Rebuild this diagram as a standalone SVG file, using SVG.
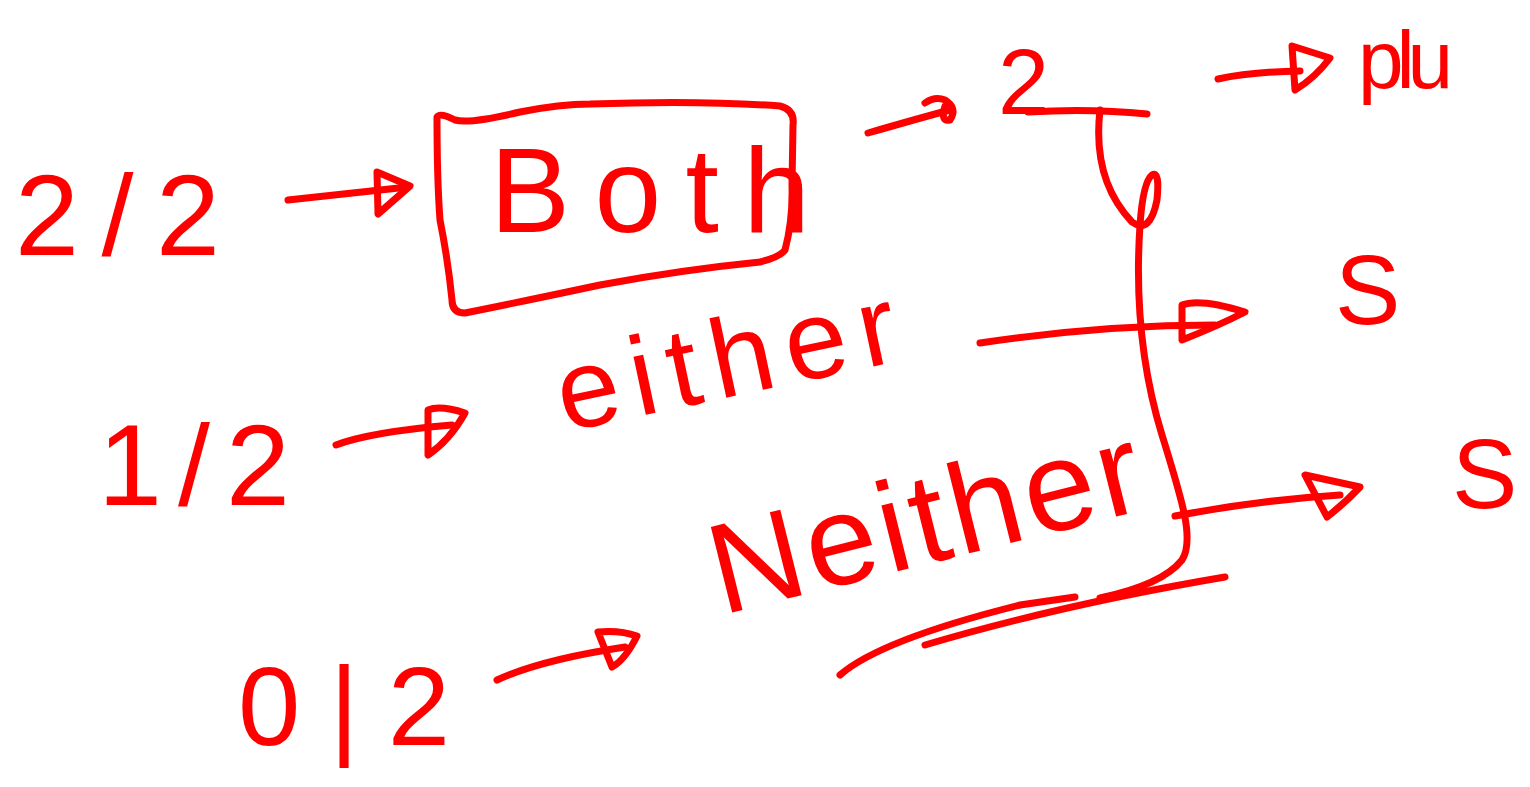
<svg xmlns="http://www.w3.org/2000/svg" width="1530" height="787" viewBox="0 0 1530 787">
<style>
.ink{fill:none;stroke:#ff0000;stroke-width:7;stroke-linecap:round;stroke-linejoin:round}
.t{fill:#ff0000;font-family:"Liberation Sans",Arial,sans-serif}
</style>
<rect width="1530" height="787" fill="#ffffff"/>

<g id="n-2of2"><text class="t" x="15" y="255" font-size="115" textLength="205" lengthAdjust="spacing">2/2</text></g>
<g id="n-both">
<path class="ink" d="M437 117 Q440 112 455 120 Q470 124 520 112 Q560 104 590 104 Q700 100 780 106 Q795 110 793 125 L792 185 Q793 220 785 250 Q780 257 760 262 Q680 270 600 285 Q520 302 465 313 Q452 313 452 300 Q448 260 440 220 Q437 180 437 117 Z"/>
<text class="t" x="490" y="232" font-size="120" textLength="320" lengthAdjust="spacing">Both</text>
</g>
<g id="n-1of2"><text class="t" x="98" y="505" font-size="115" textLength="192" lengthAdjust="spacing">1/2</text></g>
<g id="n-either"><text class="t" x="565" y="432" font-size="112" textLength="345" lengthAdjust="spacing" transform="rotate(-12 565 432)">either</text></g>
<g id="n-0of2"><text class="t" x="238" y="745" font-size="112" textLength="212" lengthAdjust="spacing">0|2</text></g>
<g id="n-neither"><text class="t" x="722" y="615" font-size="128" textLength="440" lengthAdjust="spacing" transform="rotate(-14 722 615)">Neither</text></g>
<g id="n-two"><text class="t" x="998" y="114" font-size="92">2</text></g>
<g id="n-plu"><text class="t" x="1358" y="88" font-size="82" textLength="95" lengthAdjust="spacing">plu</text></g>
<g id="n-s1"><text class="t" x="1335" y="324" font-size="98">S</text></g>
<g id="n-s2"><text class="t" x="1452" y="508" font-size="98">S</text></g>

<g id="connectors">
<path class="ink" d="M288 200 L408 187"/>
<path class="ink" d="M377 172 L410 186 L378 214 Z"/>
<path class="ink" d="M868 133 Q920 118 950 110"/>
<path class="ink" d="M925 103 Q935 96 945 100 Q958 108 950 120 Q940 122 945 106"/>
<path class="ink" d="M1028 112 Q1090 108 1147 114"/>
<path class="ink" d="M1100 110 Q1092 180 1132 222 Q1150 235 1157 200 Q1160 170 1152 175 Q1143 182 1140 225 C1135 300 1142 370 1162 435 C1182 500 1195 540 1182 560 Q1162 585 1100 598"/>
<path class="ink" d="M1218 79 Q1250 72 1300 71"/>
<path class="ink" d="M1292 46 L1330 58 Q1315 78 1295 90 Z"/>
<path class="ink" d="M980 343 Q1100 325 1215 325"/>
<path class="ink" d="M1182 305 Q1200 298 1245 312 Q1220 325 1182 340 Z"/>
<path class="ink" d="M336 445 Q370 432 452 425"/>
<path class="ink" d="M428 410 Q440 405 465 413 Q450 440 428 455 Z"/>
<path class="ink" d="M1175 516 Q1260 500 1340 495"/>
<path class="ink" d="M1305 475 L1360 487 Q1345 503 1327 517 Z"/>
<path class="ink" d="M840 675 Q880 640 1020 605 L1075 597"/>
<path class="ink" d="M925 645 Q1060 605 1225 577"/>
<path class="ink" d="M497 680 Q540 660 625 647"/>
<path class="ink" d="M598 632 Q620 630 637 636 Q625 660 612 667 Z"/>
</g>
</svg>
